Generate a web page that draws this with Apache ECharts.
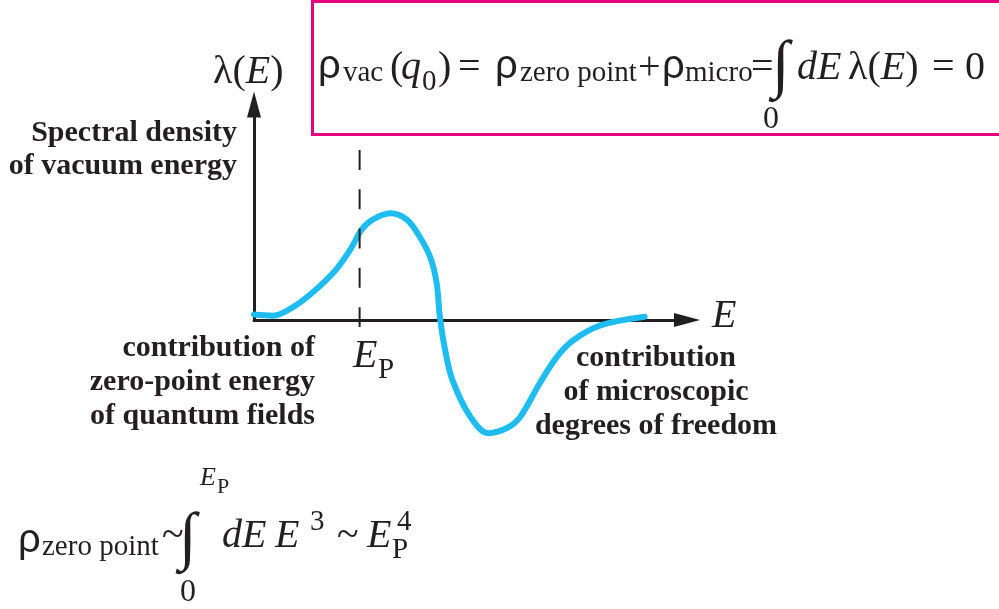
<!DOCTYPE html>
<html>
<head>
<meta charset="utf-8">
<script src="https://cdn.jsdelivr.net/npm/echarts@6/dist/echarts.min.js"></script>
<style>html,body{margin:0;padding:0;background:#fff}#c{width:999px;height:609px}</style>
</head>
<body>
<div id="c"></div>
<script>
// Energy E (in units of E_P) and spectral density lambda(E) (arbitrary units)
var curveE = [0, 0.18, 0.37, 0.56, 0.77, 0.91, 1.02, 1.12, 1.29, 1.45, 1.57, 1.67, 1.73, 1.76, 1.81, 1.88, 2.05, 2.22, 2.4, 2.52, 2.71, 2.87, 3.02, 3.28, 3.7];
var curveLambda = [0.05, 0.04, 0.12, 0.26, 0.46, 0.65, 0.84, 0.93, 0.99, 0.93, 0.77, 0.58, 0.34, 0.03, -0.28, -0.56, -0.9, -1.05, -1.0, -0.9, -0.58, -0.34, -0.19, -0.05, 0.03];
// Planck energy marker (dashed vertical line)
var planckE = [1, 1];
var planckLambda = [1.578, -0.065];

var INK = '#231f20';
var SERIF = '"Liberation Serif", "Times New Roman", serif';
var SANS = '"Liberation Sans", Arial, sans-serif';

function fontOf(size, o) {
  o = o || {};
  return (o.italic ? 'italic ' : 'normal ') + (o.bold ? 'bold ' : 'normal ') + size + 'px ' + (o.family || SERIF);
}
function tx(str, x, base, size, o) {
  o = o || {};
  return {
    type: 'text', z: 100,
    style: {
      text: str, x: x, y: base - 0.34 * size, font: fontOf(size, o),
      fill: INK, align: o.align || 'left', verticalAlign: 'middle'
    }
  };
}
function lamE(x, base, size) {
  return {
    type: 'text', z: 100,
    style: {
      text: '{u|λ(}{i|E}{u|)}', x: x, y: base - 0.34 * size, fill: INK,
      font: fontOf(size), align: 'left', verticalAlign: 'middle',
      rich: {
        u: {font: fontOf(size), fill: INK},
        i: {font: fontOf(size, {italic: true}), fill: INK}
      }
    }
  };
}

var F = 40, S = 29, B = 30;
var g = [];
// pink box
g.push({type: 'rect', z: 90, shape: {x: 312.5, y: 1.5, width: 700, height: 133}, style: {fill: 'none', stroke: '#e6007e', lineWidth: 3}});
// top formula
g.push(tx('ρ', 318, 81, F, {family: SANS}));
g.push(tx('vac', 343, 83, S));
g.push(tx('(', 390, 82, F));
g.push(tx('q', 401, 82, F, {italic: true}));
g.push(tx('0', 422, 92, S));
g.push(tx(')', 438, 82, F));
g.push(tx('=', 458, 82, F));
g.push(tx('ρ', 495, 81, F, {family: SANS}));
g.push(tx('zero point', 520, 83, S));
g.push(tx('+', 638, 82, F));
g.push(tx('ρ', 662, 81, F, {family: SANS}));
g.push(tx('micro', 685, 83, S));
g.push(tx('=', 751, 82, F));
g.push(tx('∫', 772, 90, 64));
g.push(tx('dE', 797, 82, F, {italic: true}));
g.push(lamE(848, 82, F));
g.push(tx('=', 932, 82, F));
g.push(tx('0', 965, 82, F));
g.push(tx('0', 763, 130, 32));
// axis labels
g.push(lamE(213, 86, F));
g.push(tx('E', 712, 330, F, {italic: true}));
g.push(tx('E', 353, 370, F, {italic: true}));
g.push(tx('P', 378, 380, S));
// bold annotations
g.push(tx('Spectral density', 237, 143, B, {bold: true, align: 'right'}));
g.push(tx('of vacuum energy', 237, 176, B, {bold: true, align: 'right'}));
g.push(tx('contribution of', 315, 358, B, {bold: true, align: 'right'}));
g.push(tx('zero-point energy', 315, 392, B, {bold: true, align: 'right'}));
g.push(tx('of quantum fields', 315, 426, B, {bold: true, align: 'right'}));
g.push(tx('contribution', 656, 368, B, {bold: true, align: 'center'}));
g.push(tx('of microscopic', 656, 402, B, {bold: true, align: 'center'}));
g.push(tx('degrees of freedom', 656, 436, B, {bold: true, align: 'center'}));
// bottom formula
g.push(tx('ρ', 18, 555, F, {family: SANS}));
g.push(tx('zero point', 42, 557, S));
g.push(tx('~', 162, 550, F));
g.push(tx('∫', 179, 562, 64));
g.push(tx('0', 180, 603, 32));
g.push(tx('E', 200, 487, 26, {italic: true}));
g.push(tx('P', 217, 495, 22));
g.push(tx('dE', 222, 550, F, {italic: true}));
g.push(tx('E', 275, 550, F, {italic: true}));
g.push(tx('3', 310, 532, S));
g.push(tx('~', 337, 550, F));
g.push(tx('E', 367, 550, F, {italic: true}));
g.push(tx('P', 392, 560, S));
g.push(tx('4', 397, 532, S));

var chart = echarts.init(document.getElementById('c'), null, {renderer: 'canvas'});
chart.setOption({
  animation: false,
  backgroundColor: '#fff',
  grid: {left: 254, right: 312, top: 104.5, bottom: 289, containLabel: false},
  xAxis: {
    type: 'value', min: 0, max: 4.1,
    axisLine: {show: true, onZero: true, symbol: ['none', 'triangle'], symbolSize: [14, 26], lineStyle: {color: INK, width: 3}},
    axisTick: {show: false}, axisLabel: {show: false}, splitLine: {show: false}
  },
  yAxis: {
    type: 'value', min: 0, max: 2.0,
    axisLine: {show: true, onZero: false, symbol: ['none', 'triangle'], symbolSize: [14, 26], lineStyle: {color: INK, width: 3}},
    axisTick: {show: false}, axisLabel: {show: false}, splitLine: {show: false}
  },
  series: [
    {
      type: 'line', smooth: 0.35, showSymbol: false, clip: false, z: 5,
      lineStyle: {color: '#1fbdef', width: 6, cap: 'round', join: 'round'},
      data: curveE.map(function (e, i) { return [e, curveLambda[i]]; })
    },
    {
      type: 'line', showSymbol: false, clip: false, z: 6,
      lineStyle: {color: INK, width: 2, type: [20, 19.3]},
      data: planckE.map(function (e, i) { return [e, planckLambda[i]]; })
    }
  ],
  graphic: {elements: g}
});
</script>
</body>
</html>
